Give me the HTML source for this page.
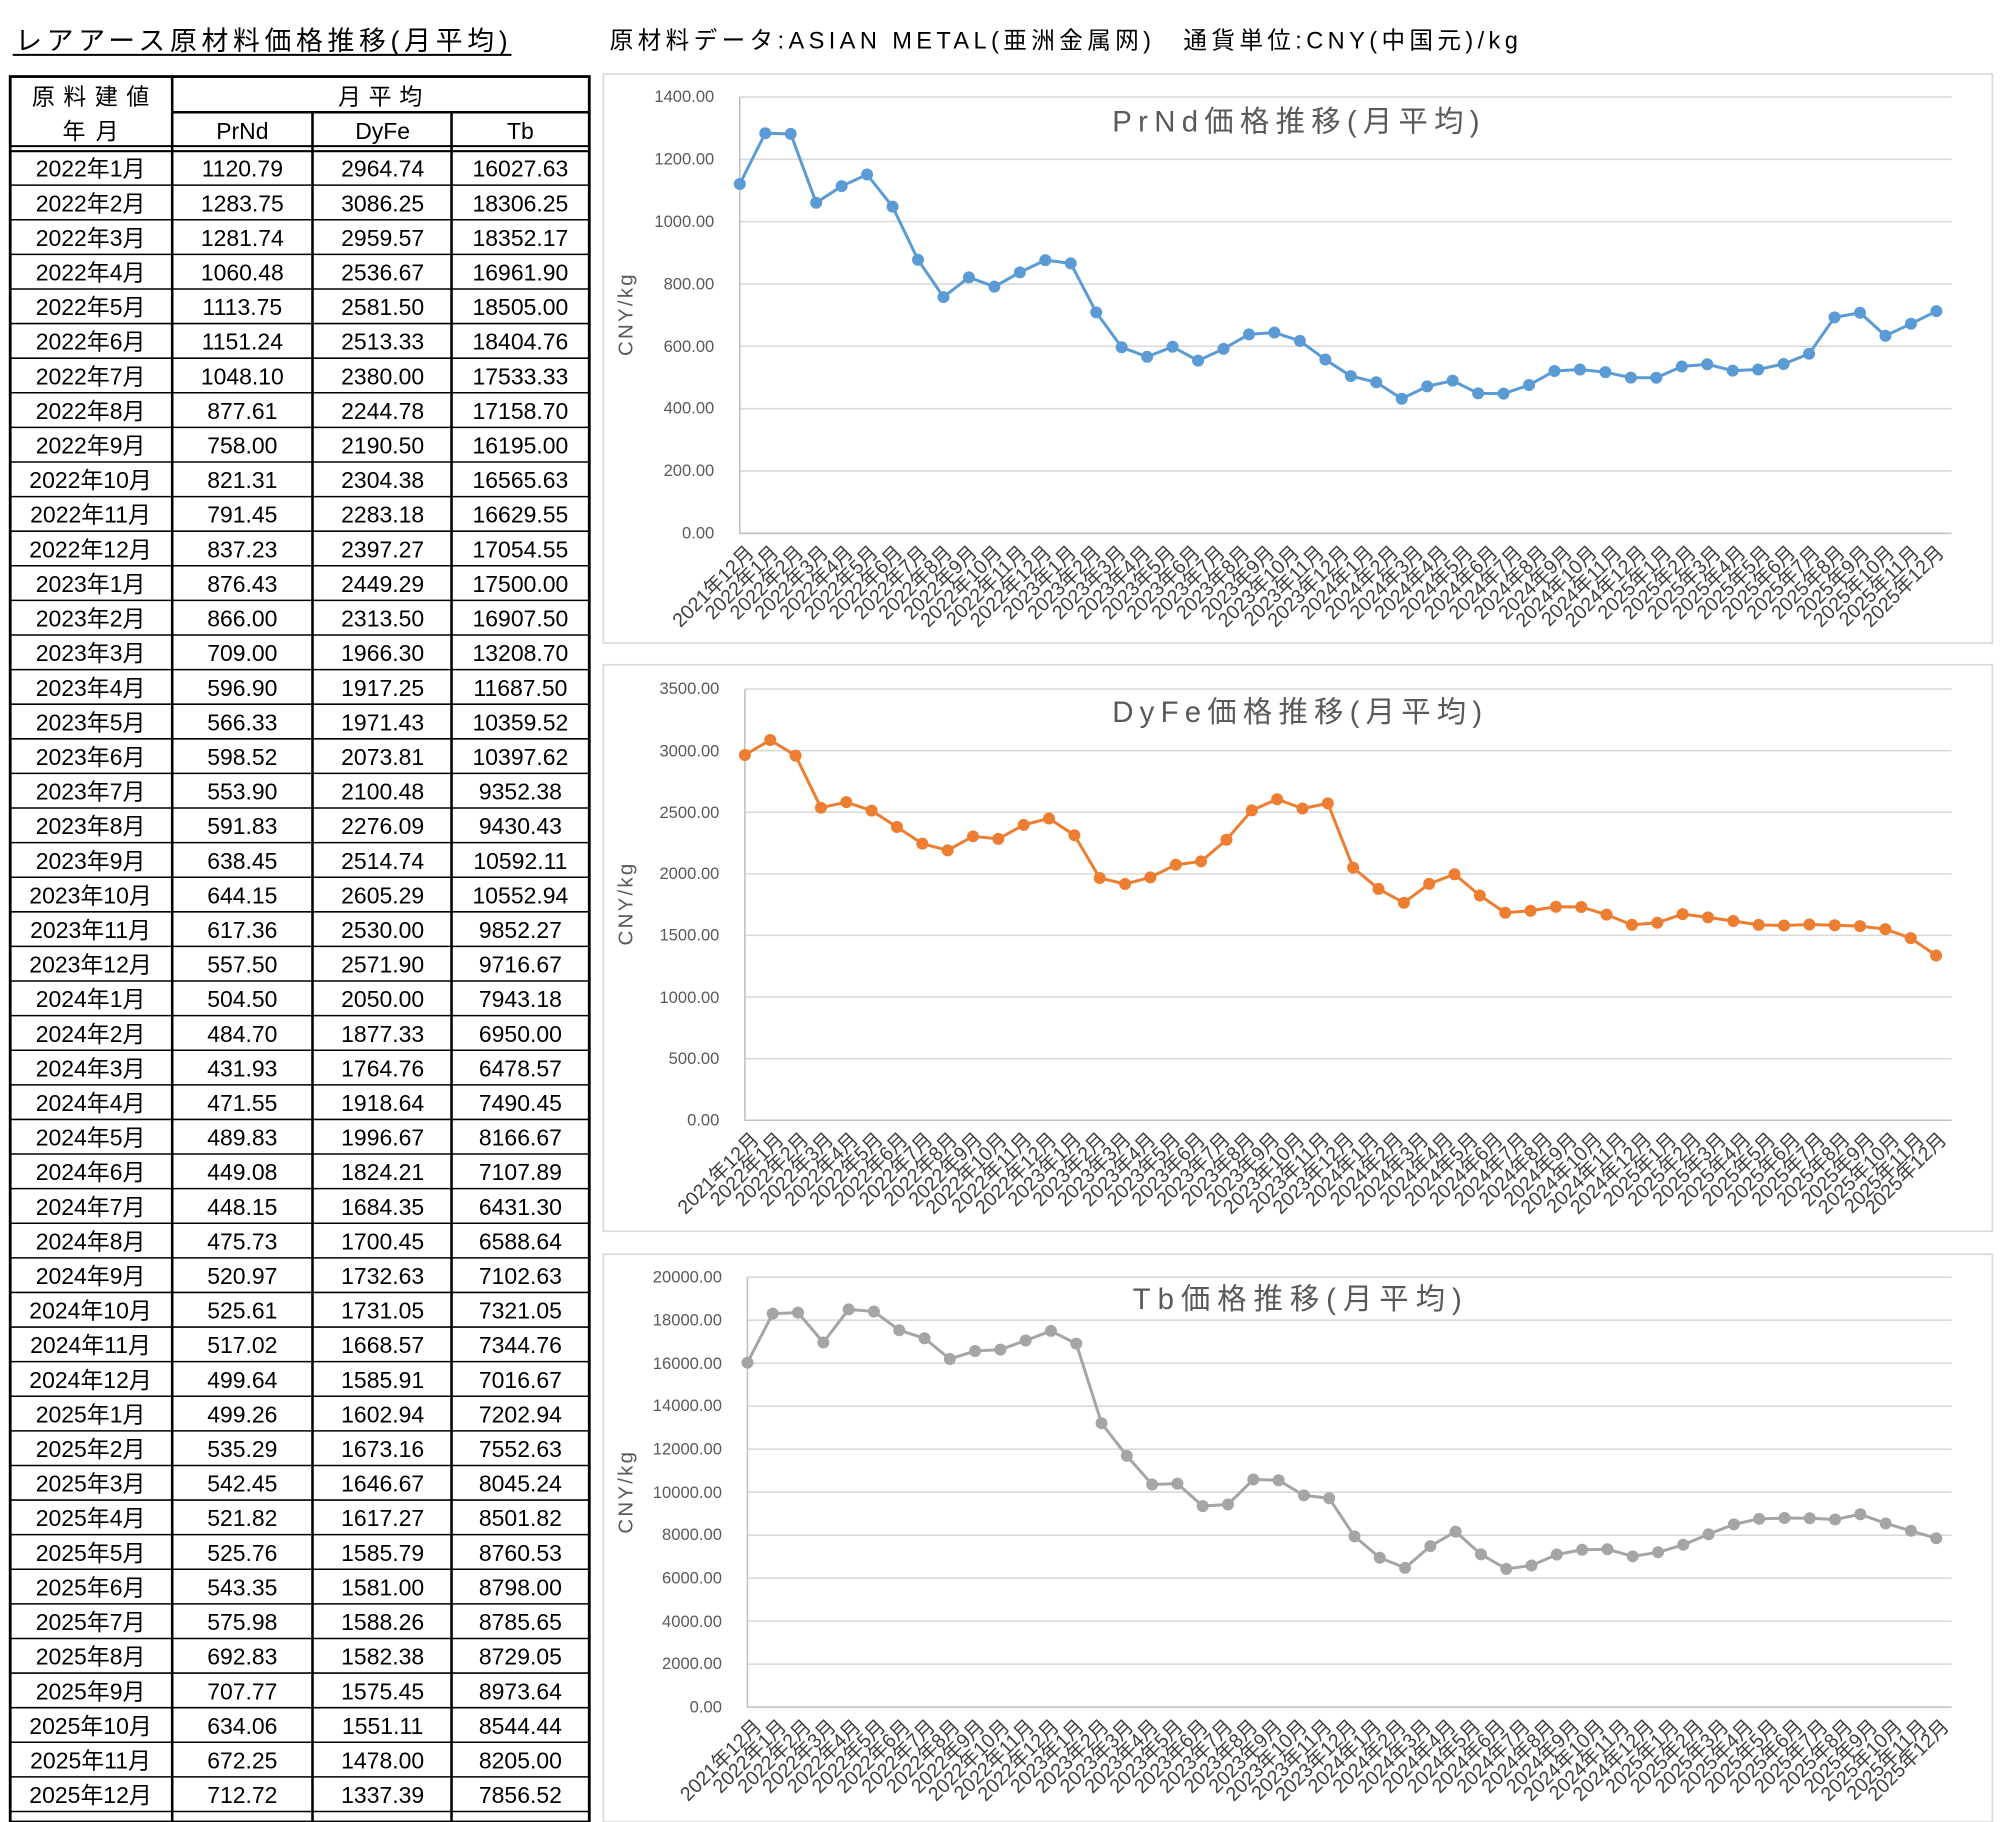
<!DOCTYPE html>
<html><head><meta charset="utf-8"><style>
html,body{margin:0;padding:0;background:#fff;}
svg{display:block;}
text{font-family:"Liberation Sans","Noto Sans CJK JP",sans-serif;}
.t{font-size:18px;fill:#000;text-anchor:middle;}
.ax{font-size:13px;fill:#595959;text-anchor:end;}
.xl text{font-size:15.5px;fill:#404040;text-anchor:end;}
.g{stroke:#d9d9d9;stroke-width:1.2;}
</style></head><body>
<svg width="2000" height="1822" viewBox="0 0 1568 1428" preserveAspectRatio="none" xmlns="http://www.w3.org/2000/svg">
<rect width="1568" height="1428" fill="#fff"/>
<text x="12" y="39" style="font-size:21px" fill="#000" textLength="386" lengthAdjust="spacing">レアアース原材料価格推移(月平均)</text>
<line x1="10" y1="43" x2="401" y2="43" stroke="#000" stroke-width="1.5"/>
<text x="478" y="38" style="font-size:18.5px" fill="#000" textLength="712" lengthAdjust="spacing">原材料データ:ASIAN METAL(亜洲金属网)　通貨単位:CNY(中国元)/kg</text>

<!-- TABLE -->
<g fill="none" stroke="#000">
<rect x="8" y="60" width="454" height="1368" stroke-width="2.2"/>
<path d="M135 60V1428M245 88V1428M354 88V1428M135 88H462" stroke-width="2"/>
<path d="M8 114.5H462M8 118.5H462" stroke-width="1.6"/>
<path stroke-width="1.2" d="M8 145.12H462M8 172.24H462M8 199.36H462M8 226.48H462M8 253.6H462M8 280.72H462M8 307.84H462M8 334.96H462M8 362.08H462M8 389.2H462M8 416.32H462M8 443.44H462M8 470.56H462M8 497.68H462M8 524.8H462M8 551.92H462M8 579.04H462M8 606.16H462M8 633.28H462M8 660.4H462M8 687.52H462M8 714.64H462M8 741.76H462M8 768.88H462M8 796H462M8 823.12H462M8 850.24H462M8 877.36H462M8 904.48H462M8 931.6H462M8 958.72H462M8 985.84H462M8 1012.96H462M8 1040.08H462M8 1067.2H462M8 1094.32H462M8 1121.44H462M8 1148.56H462M8 1175.68H462M8 1202.8H462M8 1229.92H462M8 1257.04H462M8 1284.16H462M8 1311.28H462M8 1338.4H462M8 1365.52H462M8 1392.64H462M8 1419.76H462"/>
</g>
<text class="t" x="71" y="82" textLength="92" lengthAdjust="spacing">原料建値</text>
<text class="t" x="71" y="109" textLength="44" lengthAdjust="spacing">年月</text>
<text class="t" x="298" y="82" textLength="66" lengthAdjust="spacing">月平均</text>
<text class="t" x="190" y="109">PrNd</text>
<text class="t" x="300" y="109">DyFe</text>
<text class="t" x="408" y="109">Tb</text>
<g class="t">
<g transform="translate(0,138.5)"><text class="t" x="71">2022年1月</text><text class="t" x="190">1120.79</text><text class="t" x="300">2964.74</text><text class="t" x="408">16027.63</text></g>
<g transform="translate(0,165.6)"><text class="t" x="71">2022年2月</text><text class="t" x="190">1283.75</text><text class="t" x="300">3086.25</text><text class="t" x="408">18306.25</text></g>
<g transform="translate(0,192.7)"><text class="t" x="71">2022年3月</text><text class="t" x="190">1281.74</text><text class="t" x="300">2959.57</text><text class="t" x="408">18352.17</text></g>
<g transform="translate(0,219.9)"><text class="t" x="71">2022年4月</text><text class="t" x="190">1060.48</text><text class="t" x="300">2536.67</text><text class="t" x="408">16961.90</text></g>
<g transform="translate(0,247)"><text class="t" x="71">2022年5月</text><text class="t" x="190">1113.75</text><text class="t" x="300">2581.50</text><text class="t" x="408">18505.00</text></g>
<g transform="translate(0,274.1)"><text class="t" x="71">2022年6月</text><text class="t" x="190">1151.24</text><text class="t" x="300">2513.33</text><text class="t" x="408">18404.76</text></g>
<g transform="translate(0,301.2)"><text class="t" x="71">2022年7月</text><text class="t" x="190">1048.10</text><text class="t" x="300">2380.00</text><text class="t" x="408">17533.33</text></g>
<g transform="translate(0,328.3)"><text class="t" x="71">2022年8月</text><text class="t" x="190">877.61</text><text class="t" x="300">2244.78</text><text class="t" x="408">17158.70</text></g>
<g transform="translate(0,355.5)"><text class="t" x="71">2022年9月</text><text class="t" x="190">758.00</text><text class="t" x="300">2190.50</text><text class="t" x="408">16195.00</text></g>
<g transform="translate(0,382.6)"><text class="t" x="71">2022年10月</text><text class="t" x="190">821.31</text><text class="t" x="300">2304.38</text><text class="t" x="408">16565.63</text></g>
<g transform="translate(0,409.7)"><text class="t" x="71">2022年11月</text><text class="t" x="190">791.45</text><text class="t" x="300">2283.18</text><text class="t" x="408">16629.55</text></g>
<g transform="translate(0,436.8)"><text class="t" x="71">2022年12月</text><text class="t" x="190">837.23</text><text class="t" x="300">2397.27</text><text class="t" x="408">17054.55</text></g>
<g transform="translate(0,463.9)"><text class="t" x="71">2023年1月</text><text class="t" x="190">876.43</text><text class="t" x="300">2449.29</text><text class="t" x="408">17500.00</text></g>
<g transform="translate(0,491.1)"><text class="t" x="71">2023年2月</text><text class="t" x="190">866.00</text><text class="t" x="300">2313.50</text><text class="t" x="408">16907.50</text></g>
<g transform="translate(0,518.2)"><text class="t" x="71">2023年3月</text><text class="t" x="190">709.00</text><text class="t" x="300">1966.30</text><text class="t" x="408">13208.70</text></g>
<g transform="translate(0,545.3)"><text class="t" x="71">2023年4月</text><text class="t" x="190">596.90</text><text class="t" x="300">1917.25</text><text class="t" x="408">11687.50</text></g>
<g transform="translate(0,572.4)"><text class="t" x="71">2023年5月</text><text class="t" x="190">566.33</text><text class="t" x="300">1971.43</text><text class="t" x="408">10359.52</text></g>
<g transform="translate(0,599.5)"><text class="t" x="71">2023年6月</text><text class="t" x="190">598.52</text><text class="t" x="300">2073.81</text><text class="t" x="408">10397.62</text></g>
<g transform="translate(0,626.7)"><text class="t" x="71">2023年7月</text><text class="t" x="190">553.90</text><text class="t" x="300">2100.48</text><text class="t" x="408">9352.38</text></g>
<g transform="translate(0,653.8)"><text class="t" x="71">2023年8月</text><text class="t" x="190">591.83</text><text class="t" x="300">2276.09</text><text class="t" x="408">9430.43</text></g>
<g transform="translate(0,680.9)"><text class="t" x="71">2023年9月</text><text class="t" x="190">638.45</text><text class="t" x="300">2514.74</text><text class="t" x="408">10592.11</text></g>
<g transform="translate(0,708)"><text class="t" x="71">2023年10月</text><text class="t" x="190">644.15</text><text class="t" x="300">2605.29</text><text class="t" x="408">10552.94</text></g>
<g transform="translate(0,735.1)"><text class="t" x="71">2023年11月</text><text class="t" x="190">617.36</text><text class="t" x="300">2530.00</text><text class="t" x="408">9852.27</text></g>
<g transform="translate(0,762.3)"><text class="t" x="71">2023年12月</text><text class="t" x="190">557.50</text><text class="t" x="300">2571.90</text><text class="t" x="408">9716.67</text></g>
<g transform="translate(0,789.4)"><text class="t" x="71">2024年1月</text><text class="t" x="190">504.50</text><text class="t" x="300">2050.00</text><text class="t" x="408">7943.18</text></g>
<g transform="translate(0,816.5)"><text class="t" x="71">2024年2月</text><text class="t" x="190">484.70</text><text class="t" x="300">1877.33</text><text class="t" x="408">6950.00</text></g>
<g transform="translate(0,843.6)"><text class="t" x="71">2024年3月</text><text class="t" x="190">431.93</text><text class="t" x="300">1764.76</text><text class="t" x="408">6478.57</text></g>
<g transform="translate(0,870.7)"><text class="t" x="71">2024年4月</text><text class="t" x="190">471.55</text><text class="t" x="300">1918.64</text><text class="t" x="408">7490.45</text></g>
<g transform="translate(0,897.9)"><text class="t" x="71">2024年5月</text><text class="t" x="190">489.83</text><text class="t" x="300">1996.67</text><text class="t" x="408">8166.67</text></g>
<g transform="translate(0,925)"><text class="t" x="71">2024年6月</text><text class="t" x="190">449.08</text><text class="t" x="300">1824.21</text><text class="t" x="408">7107.89</text></g>
<g transform="translate(0,952.1)"><text class="t" x="71">2024年7月</text><text class="t" x="190">448.15</text><text class="t" x="300">1684.35</text><text class="t" x="408">6431.30</text></g>
<g transform="translate(0,979.2)"><text class="t" x="71">2024年8月</text><text class="t" x="190">475.73</text><text class="t" x="300">1700.45</text><text class="t" x="408">6588.64</text></g>
<g transform="translate(0,1006.3)"><text class="t" x="71">2024年9月</text><text class="t" x="190">520.97</text><text class="t" x="300">1732.63</text><text class="t" x="408">7102.63</text></g>
<g transform="translate(0,1033.5)"><text class="t" x="71">2024年10月</text><text class="t" x="190">525.61</text><text class="t" x="300">1731.05</text><text class="t" x="408">7321.05</text></g>
<g transform="translate(0,1060.6)"><text class="t" x="71">2024年11月</text><text class="t" x="190">517.02</text><text class="t" x="300">1668.57</text><text class="t" x="408">7344.76</text></g>
<g transform="translate(0,1087.7)"><text class="t" x="71">2024年12月</text><text class="t" x="190">499.64</text><text class="t" x="300">1585.91</text><text class="t" x="408">7016.67</text></g>
<g transform="translate(0,1114.8)"><text class="t" x="71">2025年1月</text><text class="t" x="190">499.26</text><text class="t" x="300">1602.94</text><text class="t" x="408">7202.94</text></g>
<g transform="translate(0,1141.9)"><text class="t" x="71">2025年2月</text><text class="t" x="190">535.29</text><text class="t" x="300">1673.16</text><text class="t" x="408">7552.63</text></g>
<g transform="translate(0,1169.1)"><text class="t" x="71">2025年3月</text><text class="t" x="190">542.45</text><text class="t" x="300">1646.67</text><text class="t" x="408">8045.24</text></g>
<g transform="translate(0,1196.2)"><text class="t" x="71">2025年4月</text><text class="t" x="190">521.82</text><text class="t" x="300">1617.27</text><text class="t" x="408">8501.82</text></g>
<g transform="translate(0,1223.3)"><text class="t" x="71">2025年5月</text><text class="t" x="190">525.76</text><text class="t" x="300">1585.79</text><text class="t" x="408">8760.53</text></g>
<g transform="translate(0,1250.4)"><text class="t" x="71">2025年6月</text><text class="t" x="190">543.35</text><text class="t" x="300">1581.00</text><text class="t" x="408">8798.00</text></g>
<g transform="translate(0,1277.5)"><text class="t" x="71">2025年7月</text><text class="t" x="190">575.98</text><text class="t" x="300">1588.26</text><text class="t" x="408">8785.65</text></g>
<g transform="translate(0,1304.7)"><text class="t" x="71">2025年8月</text><text class="t" x="190">692.83</text><text class="t" x="300">1582.38</text><text class="t" x="408">8729.05</text></g>
<g transform="translate(0,1331.8)"><text class="t" x="71">2025年9月</text><text class="t" x="190">707.77</text><text class="t" x="300">1575.45</text><text class="t" x="408">8973.64</text></g>
<g transform="translate(0,1358.9)"><text class="t" x="71">2025年10月</text><text class="t" x="190">634.06</text><text class="t" x="300">1551.11</text><text class="t" x="408">8544.44</text></g>
<g transform="translate(0,1386)"><text class="t" x="71">2025年11月</text><text class="t" x="190">672.25</text><text class="t" x="300">1478.00</text><text class="t" x="408">8205.00</text></g>
<g transform="translate(0,1413.1)"><text class="t" x="71">2025年12月</text><text class="t" x="190">712.72</text><text class="t" x="300">1337.39</text><text class="t" x="408">7856.52</text></g>
</g>

<!-- CHART FRAMES -->
<g fill="none" stroke="#d9d9d9" stroke-width="1.3">
<rect x="473" y="58" width="1089" height="446"/>
<rect x="473" y="521" width="1089" height="444"/>
<rect x="473" y="983" width="1089" height="445"/>
</g>

<!-- CHART 1 -->
<path class="g" d="M580 369.1H1530M580 320.3H1530M580 271.4H1530M580 222.6H1530M580 173.7H1530M580 124.9H1530M580 76H1530"/>
<path d="M580 76V418H1530" stroke="#bfbfbf" stroke-width="1.2" fill="none"/>
<g class="ax"><text class="ax" x="560" y="422">0.00</text><text class="ax" x="560" y="373">200.00</text><text class="ax" x="560" y="324">400.00</text><text class="ax" x="560" y="276">600.00</text><text class="ax" x="560" y="227">800.00</text><text class="ax" x="560" y="178">1000.00</text><text class="ax" x="560" y="129">1200.00</text><text class="ax" x="560" y="80">1400.00</text></g>
<text x="872" y="103" style="font-size:23px" fill="#595959" textLength="288" lengthAdjust="spacing">PrNd価格推移(月平均)</text>
<text transform="translate(496,247) rotate(-90)" text-anchor="middle" style="font-size:16px" fill="#595959" textLength="64" lengthAdjust="spacing">CNY/kg</text>
<g transform="translate(580,418) scale(19.96,-0.24429)" fill="none" stroke="#5b9bd5" stroke-linejoin="round">
<polyline vector-effect="non-scaling-stroke" stroke-width="3" points="0,1120.79 1,1283.75 2,1281.74 3,1060.48 4,1113.75 5,1151.24 6,1048.10 7,877.61 8,758.00 9,821.31 10,791.45 11,837.23 12,876.43 13,866.00 14,709.00 15,596.90 16,566.33 17,598.52 18,553.90 19,591.83 20,638.45 21,644.15 22,617.36 23,557.50 24,504.50 25,484.70 26,431.93 27,471.55 28,489.83 29,449.08 30,448.15 31,475.73 32,520.97 33,525.61 34,517.02 35,499.64 36,499.26 37,535.29 38,542.45 39,521.82 40,525.76 41,543.35 42,575.98 43,692.83 44,707.77 45,634.06 46,672.25 47,712.72"/>
<path vector-effect="non-scaling-stroke" stroke-width="12" stroke-linecap="round" d="M0 1120.79h0M1 1283.75h0M2 1281.74h0M3 1060.48h0M4 1113.75h0M5 1151.24h0M6 1048.10h0M7 877.61h0M8 758.00h0M9 821.31h0M10 791.45h0M11 837.23h0M12 876.43h0M13 866.00h0M14 709.00h0M15 596.90h0M16 566.33h0M17 598.52h0M18 553.90h0M19 591.83h0M20 638.45h0M21 644.15h0M22 617.36h0M23 557.50h0M24 504.50h0M25 484.70h0M26 431.93h0M27 471.55h0M28 489.83h0M29 449.08h0M30 448.15h0M31 475.73h0M32 520.97h0M33 525.61h0M34 517.02h0M35 499.64h0M36 499.26h0M37 535.29h0M38 542.45h0M39 521.82h0M40 525.76h0M41 543.35h0M42 575.98h0M43 692.83h0M44 707.77h0M45 634.06h0M46 672.25h0M47 712.72h0"/>
</g>
<g class="xl" transform="translate(0,434)">
<text transform="translate(592) rotate(-45)">2021年12月</text><text transform="translate(611.4) rotate(-45)">2022年1月</text><text transform="translate(630.9) rotate(-45)">2022年2月</text><text transform="translate(650.3) rotate(-45)">2022年3月</text><text transform="translate(669.8) rotate(-45)">2022年4月</text><text transform="translate(689.2) rotate(-45)">2022年5月</text><text transform="translate(708.6) rotate(-45)">2022年6月</text><text transform="translate(728.1) rotate(-45)">2022年7月</text><text transform="translate(747.5) rotate(-45)">2022年8月</text><text transform="translate(767) rotate(-45)">2022年9月</text><text transform="translate(786.4) rotate(-45)">2022年10月</text><text transform="translate(805.8) rotate(-45)">2022年11月</text><text transform="translate(825.3) rotate(-45)">2022年12月</text><text transform="translate(844.7) rotate(-45)">2023年1月</text><text transform="translate(864.2) rotate(-45)">2023年2月</text><text transform="translate(883.6) rotate(-45)">2023年3月</text><text transform="translate(903) rotate(-45)">2023年4月</text><text transform="translate(922.5) rotate(-45)">2023年5月</text><text transform="translate(941.9) rotate(-45)">2023年6月</text><text transform="translate(961.4) rotate(-45)">2023年7月</text><text transform="translate(980.8) rotate(-45)">2023年8月</text><text transform="translate(1000.2) rotate(-45)">2023年9月</text><text transform="translate(1019.7) rotate(-45)">2023年10月</text><text transform="translate(1039.1) rotate(-45)">2023年11月</text><text transform="translate(1058.6) rotate(-45)">2023年12月</text><text transform="translate(1078) rotate(-45)">2024年1月</text><text transform="translate(1097.4) rotate(-45)">2024年2月</text><text transform="translate(1116.9) rotate(-45)">2024年3月</text><text transform="translate(1136.3) rotate(-45)">2024年4月</text><text transform="translate(1155.8) rotate(-45)">2024年5月</text><text transform="translate(1175.2) rotate(-45)">2024年6月</text><text transform="translate(1194.6) rotate(-45)">2024年7月</text><text transform="translate(1214.1) rotate(-45)">2024年8月</text><text transform="translate(1233.5) rotate(-45)">2024年9月</text><text transform="translate(1253) rotate(-45)">2024年10月</text><text transform="translate(1272.4) rotate(-45)">2024年11月</text><text transform="translate(1291.8) rotate(-45)">2024年12月</text><text transform="translate(1311.3) rotate(-45)">2025年1月</text><text transform="translate(1330.7) rotate(-45)">2025年2月</text><text transform="translate(1350.2) rotate(-45)">2025年3月</text><text transform="translate(1369.6) rotate(-45)">2025年4月</text><text transform="translate(1389) rotate(-45)">2025年5月</text><text transform="translate(1408.5) rotate(-45)">2025年6月</text><text transform="translate(1427.9) rotate(-45)">2025年7月</text><text transform="translate(1447.4) rotate(-45)">2025年8月</text><text transform="translate(1466.8) rotate(-45)">2025年9月</text><text transform="translate(1486.2) rotate(-45)">2025年10月</text><text transform="translate(1505.7) rotate(-45)">2025年11月</text><text transform="translate(1525.1) rotate(-45)">2025年12月</text>
</g>

<!-- CHART 2 -->
<path class="g" d="M584 829.7H1530M584 781.4H1530M584 733.1H1530M584 684.9H1530M584 636.6H1530M584 588.3H1530M584 540H1530"/>
<path d="M584 540V878H1530" stroke="#bfbfbf" stroke-width="1.2" fill="none"/>
<g class="ax"><text class="ax" x="564" y="882">0.00</text><text class="ax" x="564" y="834">500.00</text><text class="ax" x="564" y="786">1000.00</text><text class="ax" x="564" y="737">1500.00</text><text class="ax" x="564" y="689">2000.00</text><text class="ax" x="564" y="641">2500.00</text><text class="ax" x="564" y="593">3000.00</text><text class="ax" x="564" y="544">3500.00</text></g>
<text x="872" y="566" style="font-size:23px" fill="#595959" textLength="290" lengthAdjust="spacing">DyFe価格推移(月平均)</text>
<text transform="translate(496,709) rotate(-90)" text-anchor="middle" style="font-size:16px" fill="#595959" textLength="64" lengthAdjust="spacing">CNY/kg</text>
<g transform="translate(584,878) scale(19.87,-0.096571)" fill="none" stroke="#ed7d31" stroke-linejoin="round">
<polyline vector-effect="non-scaling-stroke" stroke-width="3" points="0,2964.74 1,3086.25 2,2959.57 3,2536.67 4,2581.50 5,2513.33 6,2380.00 7,2244.78 8,2190.50 9,2304.38 10,2283.18 11,2397.27 12,2449.29 13,2313.50 14,1966.30 15,1917.25 16,1971.43 17,2073.81 18,2100.48 19,2276.09 20,2514.74 21,2605.29 22,2530.00 23,2571.90 24,2050.00 25,1877.33 26,1764.76 27,1918.64 28,1996.67 29,1824.21 30,1684.35 31,1700.45 32,1732.63 33,1731.05 34,1668.57 35,1585.91 36,1602.94 37,1673.16 38,1646.67 39,1617.27 40,1585.79 41,1581.00 42,1588.26 43,1582.38 44,1575.45 45,1551.11 46,1478.00 47,1337.39"/>
<path vector-effect="non-scaling-stroke" stroke-width="12" stroke-linecap="round" d="M0 2964.74h0M1 3086.25h0M2 2959.57h0M3 2536.67h0M4 2581.50h0M5 2513.33h0M6 2380.00h0M7 2244.78h0M8 2190.50h0M9 2304.38h0M10 2283.18h0M11 2397.27h0M12 2449.29h0M13 2313.50h0M14 1966.30h0M15 1917.25h0M16 1971.43h0M17 2073.81h0M18 2100.48h0M19 2276.09h0M20 2514.74h0M21 2605.29h0M22 2530.00h0M23 2571.90h0M24 2050.00h0M25 1877.33h0M26 1764.76h0M27 1918.64h0M28 1996.67h0M29 1824.21h0M30 1684.35h0M31 1700.45h0M32 1732.63h0M33 1731.05h0M34 1668.57h0M35 1585.91h0M36 1602.94h0M37 1673.16h0M38 1646.67h0M39 1617.27h0M40 1585.79h0M41 1581.00h0M42 1588.26h0M43 1582.38h0M44 1575.45h0M45 1551.11h0M46 1478.00h0M47 1337.39h0"/>
</g>
<g class="xl" transform="translate(0,894)">
<text transform="translate(596) rotate(-45)">2021年12月</text><text transform="translate(615.4) rotate(-45)">2022年1月</text><text transform="translate(634.9) rotate(-45)">2022年2月</text><text transform="translate(654.3) rotate(-45)">2022年3月</text><text transform="translate(673.8) rotate(-45)">2022年4月</text><text transform="translate(693.2) rotate(-45)">2022年5月</text><text transform="translate(712.6) rotate(-45)">2022年6月</text><text transform="translate(732.1) rotate(-45)">2022年7月</text><text transform="translate(751.5) rotate(-45)">2022年8月</text><text transform="translate(771) rotate(-45)">2022年9月</text><text transform="translate(790.4) rotate(-45)">2022年10月</text><text transform="translate(809.8) rotate(-45)">2022年11月</text><text transform="translate(829.3) rotate(-45)">2022年12月</text><text transform="translate(848.7) rotate(-45)">2023年1月</text><text transform="translate(868.2) rotate(-45)">2023年2月</text><text transform="translate(887.6) rotate(-45)">2023年3月</text><text transform="translate(907) rotate(-45)">2023年4月</text><text transform="translate(926.5) rotate(-45)">2023年5月</text><text transform="translate(945.9) rotate(-45)">2023年6月</text><text transform="translate(965.4) rotate(-45)">2023年7月</text><text transform="translate(984.8) rotate(-45)">2023年8月</text><text transform="translate(1004.2) rotate(-45)">2023年9月</text><text transform="translate(1023.7) rotate(-45)">2023年10月</text><text transform="translate(1043.1) rotate(-45)">2023年11月</text><text transform="translate(1062.6) rotate(-45)">2023年12月</text><text transform="translate(1082) rotate(-45)">2024年1月</text><text transform="translate(1101.4) rotate(-45)">2024年2月</text><text transform="translate(1120.9) rotate(-45)">2024年3月</text><text transform="translate(1140.3) rotate(-45)">2024年4月</text><text transform="translate(1159.8) rotate(-45)">2024年5月</text><text transform="translate(1179.2) rotate(-45)">2024年6月</text><text transform="translate(1198.6) rotate(-45)">2024年7月</text><text transform="translate(1218.1) rotate(-45)">2024年8月</text><text transform="translate(1237.5) rotate(-45)">2024年9月</text><text transform="translate(1257) rotate(-45)">2024年10月</text><text transform="translate(1276.4) rotate(-45)">2024年11月</text><text transform="translate(1295.8) rotate(-45)">2024年12月</text><text transform="translate(1315.3) rotate(-45)">2025年1月</text><text transform="translate(1334.7) rotate(-45)">2025年2月</text><text transform="translate(1354.2) rotate(-45)">2025年3月</text><text transform="translate(1373.6) rotate(-45)">2025年4月</text><text transform="translate(1393) rotate(-45)">2025年5月</text><text transform="translate(1412.5) rotate(-45)">2025年6月</text><text transform="translate(1431.9) rotate(-45)">2025年7月</text><text transform="translate(1451.4) rotate(-45)">2025年8月</text><text transform="translate(1470.8) rotate(-45)">2025年9月</text><text transform="translate(1490.2) rotate(-45)">2025年10月</text><text transform="translate(1509.7) rotate(-45)">2025年11月</text><text transform="translate(1527) rotate(-45)">2025年12月</text>
</g>

<!-- CHART 3 -->
<path class="g" d="M586 1304.3H1530M586 1270.6H1530M586 1236.9H1530M586 1203.2H1530M586 1169.5H1530M586 1135.8H1530M586 1102.1H1530M586 1068.4H1530M586 1034.7H1530M586 1001H1530"/>
<path d="M586 1001V1338H1530" stroke="#bfbfbf" stroke-width="1.2" fill="none"/>
<g class="ax"><text class="ax" x="566" y="1342">0.00</text><text class="ax" x="566" y="1308">2000.00</text><text class="ax" x="566" y="1275">4000.00</text><text class="ax" x="566" y="1241">6000.00</text><text class="ax" x="566" y="1207">8000.00</text><text class="ax" x="566" y="1174">10000.00</text><text class="ax" x="566" y="1140">12000.00</text><text class="ax" x="566" y="1106">14000.00</text><text class="ax" x="566" y="1073">16000.00</text><text class="ax" x="566" y="1039">18000.00</text><text class="ax" x="566" y="1005">20000.00</text></g>
<text x="888" y="1026" style="font-size:23px" fill="#595959" textLength="258" lengthAdjust="spacing">Tb価格推移(月平均)</text>
<text transform="translate(496,1170) rotate(-90)" text-anchor="middle" style="font-size:16px" fill="#595959" textLength="64" lengthAdjust="spacing">CNY/kg</text>
<g transform="translate(586,1338) scale(19.83,-0.01685)" fill="none" stroke="#a5a5a5" stroke-linejoin="round">
<polyline vector-effect="non-scaling-stroke" stroke-width="3" points="0,16027.63 1,18306.25 2,18352.17 3,16961.90 4,18505.00 5,18404.76 6,17533.33 7,17158.70 8,16195.00 9,16565.63 10,16629.55 11,17054.55 12,17500.00 13,16907.50 14,13208.70 15,11687.50 16,10359.52 17,10397.62 18,9352.38 19,9430.43 20,10592.11 21,10552.94 22,9852.27 23,9716.67 24,7943.18 25,6950.00 26,6478.57 27,7490.45 28,8166.67 29,7107.89 30,6431.30 31,6588.64 32,7102.63 33,7321.05 34,7344.76 35,7016.67 36,7202.94 37,7552.63 38,8045.24 39,8501.82 40,8760.53 41,8798.00 42,8785.65 43,8729.05 44,8973.64 45,8544.44 46,8205.00 47,7856.52"/>
<path vector-effect="non-scaling-stroke" stroke-width="12" stroke-linecap="round" d="M0 16027.63h0M1 18306.25h0M2 18352.17h0M3 16961.90h0M4 18505.00h0M5 18404.76h0M6 17533.33h0M7 17158.70h0M8 16195.00h0M9 16565.63h0M10 16629.55h0M11 17054.55h0M12 17500.00h0M13 16907.50h0M14 13208.70h0M15 11687.50h0M16 10359.52h0M17 10397.62h0M18 9352.38h0M19 9430.43h0M20 10592.11h0M21 10552.94h0M22 9852.27h0M23 9716.67h0M24 7943.18h0M25 6950.00h0M26 6478.57h0M27 7490.45h0M28 8166.67h0M29 7107.89h0M30 6431.30h0M31 6588.64h0M32 7102.63h0M33 7321.05h0M34 7344.76h0M35 7016.67h0M36 7202.94h0M37 7552.63h0M38 8045.24h0M39 8501.82h0M40 8760.53h0M41 8798.00h0M42 8785.65h0M43 8729.05h0M44 8973.64h0M45 8544.44h0M46 8205.00h0M47 7856.52h0"/>
</g>
<g class="xl" transform="translate(0,1354)">
<text transform="translate(598) rotate(-45)">2021年12月</text><text transform="translate(617.4) rotate(-45)">2022年1月</text><text transform="translate(636.9) rotate(-45)">2022年2月</text><text transform="translate(656.3) rotate(-45)">2022年3月</text><text transform="translate(675.8) rotate(-45)">2022年4月</text><text transform="translate(695.2) rotate(-45)">2022年5月</text><text transform="translate(714.6) rotate(-45)">2022年6月</text><text transform="translate(734.1) rotate(-45)">2022年7月</text><text transform="translate(753.5) rotate(-45)">2022年8月</text><text transform="translate(773) rotate(-45)">2022年9月</text><text transform="translate(792.4) rotate(-45)">2022年10月</text><text transform="translate(811.8) rotate(-45)">2022年11月</text><text transform="translate(831.3) rotate(-45)">2022年12月</text><text transform="translate(850.7) rotate(-45)">2023年1月</text><text transform="translate(870.2) rotate(-45)">2023年2月</text><text transform="translate(889.6) rotate(-45)">2023年3月</text><text transform="translate(909) rotate(-45)">2023年4月</text><text transform="translate(928.5) rotate(-45)">2023年5月</text><text transform="translate(947.9) rotate(-45)">2023年6月</text><text transform="translate(967.4) rotate(-45)">2023年7月</text><text transform="translate(986.8) rotate(-45)">2023年8月</text><text transform="translate(1006.2) rotate(-45)">2023年9月</text><text transform="translate(1025.7) rotate(-45)">2023年10月</text><text transform="translate(1045.1) rotate(-45)">2023年11月</text><text transform="translate(1064.6) rotate(-45)">2023年12月</text><text transform="translate(1084) rotate(-45)">2024年1月</text><text transform="translate(1103.4) rotate(-45)">2024年2月</text><text transform="translate(1122.9) rotate(-45)">2024年3月</text><text transform="translate(1142.3) rotate(-45)">2024年4月</text><text transform="translate(1161.8) rotate(-45)">2024年5月</text><text transform="translate(1181.2) rotate(-45)">2024年6月</text><text transform="translate(1200.6) rotate(-45)">2024年7月</text><text transform="translate(1220.1) rotate(-45)">2024年8月</text><text transform="translate(1239.5) rotate(-45)">2024年9月</text><text transform="translate(1259) rotate(-45)">2024年10月</text><text transform="translate(1278.4) rotate(-45)">2024年11月</text><text transform="translate(1297.8) rotate(-45)">2024年12月</text><text transform="translate(1317.3) rotate(-45)">2025年1月</text><text transform="translate(1336.7) rotate(-45)">2025年2月</text><text transform="translate(1356.2) rotate(-45)">2025年3月</text><text transform="translate(1375.6) rotate(-45)">2025年4月</text><text transform="translate(1395) rotate(-45)">2025年5月</text><text transform="translate(1414.5) rotate(-45)">2025年6月</text><text transform="translate(1433.9) rotate(-45)">2025年7月</text><text transform="translate(1453.4) rotate(-45)">2025年8月</text><text transform="translate(1472.8) rotate(-45)">2025年9月</text><text transform="translate(1492.2) rotate(-45)">2025年10月</text><text transform="translate(1511.7) rotate(-45)">2025年11月</text><text transform="translate(1529) rotate(-45)">2025年12月</text>
</g>
</svg>
</body></html>
